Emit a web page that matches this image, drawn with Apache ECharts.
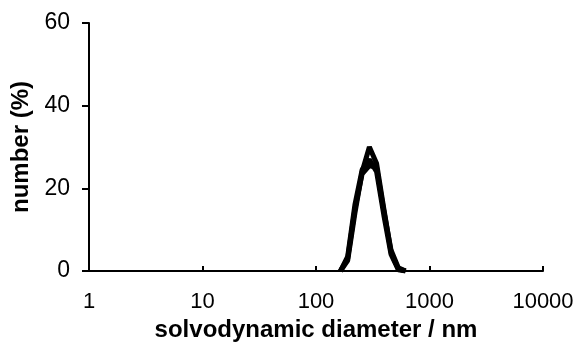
<!DOCTYPE html>
<html><head><meta charset="utf-8">
<script src="https://cdn.jsdelivr.net/npm/echarts@6/dist/echarts.min.js"></script>
<style>html,body{margin:0;padding:0;background:#fff}#c{width:581px;height:349px}</style>
</head><body><div id="c"></div>
<script>
const sizes = [164.2, 190.1, 220.2, 255.0, 295.3, 342.0, 396.1, 458.7, 531.2, 615.1];
const run1 = [0, 2.5, 14, 24, 30, 26, 15, 4.5, 0.5, 0];
const run2 = [0, 3.5, 16, 24.5, 27, 24, 13.5, 4, 0.3, 0];
const run3 = [0, 3, 15, 23.5, 25.5, 25, 14.5, 5, 0.8, 0];
const xTicks = [1, 10, 100, 1000, 10000];
const yTicks = [0, 20, 40, 60];

function pairs(v){ return sizes.map((s,i)=>[s, v[i]]); }
const chart = echarts.init(document.getElementById('c'));
const font = 'Arial, "Liberation Sans", sans-serif';
chart.setOption({
  animation:false,
  grid:{left:89, right:38, top:23, bottom:78},
  xAxis:{type:'log', logBase:10, min:xTicks[0], max:xTicks[xTicks.length-1],
    name:'solvodynamic diameter / nm', nameLocation:'middle', nameGap:45,
    nameTextStyle:{fontFamily:font, fontSize:24, fontWeight:'bold', color:'#000'},
    axisLine:{lineStyle:{color:'#000', width:2}},
    axisTick:{show:true, length:5, inside:true, lineStyle:{color:'#000', width:2}},
    axisLabel:{fontFamily:font, fontSize:22, color:'#000', margin:20, formatter:v=>String(v)},
    splitLine:{show:false}, minorTick:{show:false}},
  yAxis:{type:'value', min:yTicks[0], max:yTicks[yTicks.length-1], interval:20,
    name:'number (%)', nameLocation:'middle', nameGap:54,
    nameTextStyle:{fontFamily:font, fontSize:24, fontWeight:'bold', color:'#000'},
    axisLine:{show:true, lineStyle:{color:'#000', width:2}},
    axisTick:{show:true, length:7, inside:false, lineStyle:{color:'#000', width:2}},
    axisLabel:{fontFamily:font, fontSize:23, color:'#000', margin:19},
    splitLine:{show:false}},
  series:[run1, run2, run3].map(v=>({type:'line', data:pairs(v), symbol:'none',
    lineStyle:{color:'#000', width:5}, z:3}))
});
</script></body></html>
